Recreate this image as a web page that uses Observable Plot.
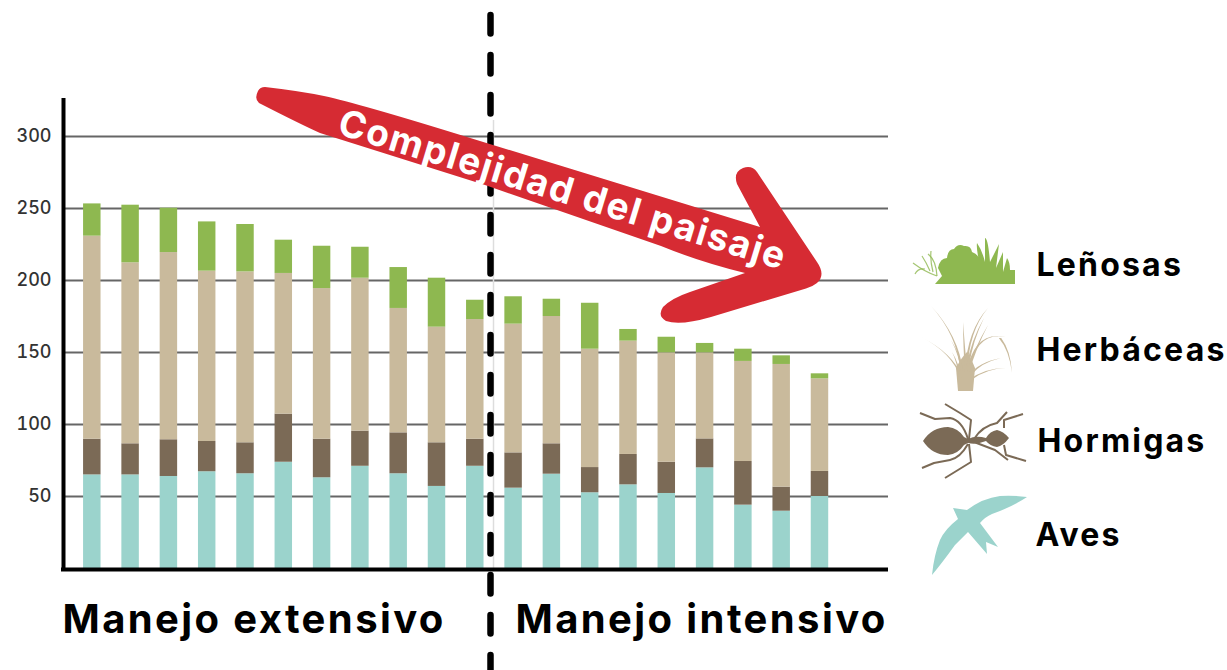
<!DOCTYPE html>
<html lang="es">
<head>
<meta charset="utf-8">
<title>Complejidad del paisaje</title>
<script src="https://cdn.jsdelivr.net/npm/d3@7"></script>
<script src="https://cdn.jsdelivr.net/npm/@observablehq/plot@0.6"></script>
<style>
html,body{margin:0;padding:0;background:#fff}
svg{display:block}
</style>
</head>
<body>
<div id="chart"></div>
<script>
const sites = d3.range(1, 21);
const aves = [65,65,63.9,67.2,65.8,73.8,63,71,65.8,57,71,55.8,65.5,52.6,58.1,52.1,69.9,44,39.8,50];
const hormigas = [24.8,21.6,25.5,21,21.5,33.4,26.8,24.4,28.4,30.3,18.8,24.5,21.1,17.5,21.1,21.7,20.1,30.3,16.7,17.4];
const herbaceas = [141,125.7,130,118.3,118.7,97.7,104.6,106.2,86.4,80.3,83.1,89.4,88.4,82.2,78.7,76,59.8,69.5,85.2,64.3];
const lenosas = [22.4,40,30.8,34.2,32.9,23.1,29.4,21.5,28.4,34,13.4,19,12,31.9,8.1,10.8,6.5,8.5,6,3.5];
const seriesNames = ["Aves","Hormigas","Herbáceas","Leñosas"];
const seriesValues = [aves,hormigas,herbaceas,lenosas];
const seriesColors = ["#9bd3cc","#7b6a56","#c9ba9c","#8eb850"];
const yTicks = [50,100,150,200,250,300];
const arrowLabel = "Complejidad del paisaje";
const FONT = "Inter, 'Noto Sans', sans-serif";

const W = 1227, H = 670;
const mL = 63, mR = 339, mT = 98, mB = 102;
const xDomain = [0.248, 21.789], yDomain = [0, 326.4];
const X = px => xDomain[0] + (px - mL) / (W - mR - mL) * (xDomain[1] - xDomain[0]);
const Y = py => yDomain[0] + (H - mB - py) / (H - mB - mT) * (yDomain[1] - yDomain[0]);

const rows = [];
sites.forEach((s, i) => {
  let base = 0;
  seriesNames.forEach((name, k) => {
    const v = seriesValues[k][i];
    rows.push({site: s, serie: name, y1: base, y2: base + v});
    base += v;
  });
});

const halfBar = 0.228;

const arrowPath = "M265 87 Q300 91 324 96 Q360 104 454 133 L760 227 L737 184 Q733 172 743 168 Q752 165 757 172 L817 262 Q826 275 817 283 Q812 287 806 288.5 L711 317 Q680 326 666 321 Q657 316 663 307 Q672 298 690 292 L745 273 Q700 262 661 246 L485 185 L320 133 Q300 124 259 103 Q254 99 258 91 Q260 87 265 87 Z";

const birdPath = "M1027 497 Q1012 495 1000 496 Q983 498 967 510 L953 508 L958 519 Q945 529 940 540 Q934 555 932 575 Q942 563 955 545 L968 532 L987 554 L986 542 L998 547 L980 523 Q985 517 992 514 Q1012 507 1027 497 Z";

const antBody = "M923 441 Q932 427 948 427 Q958 428 964 437 L968 439 Q976 435 986 438 Q990 431 997 430 Q1003 431 1009 438 Q1003 446 997 447 Q990 446 986 441 Q976 445 968 443 L964 445 Q958 454 948 455 Q932 455 923 441 Z";
const antLegs = [
  "M968 439 Q962 420 950 418 L935 419 L920 413",
  "M969 439 L971 420 L960 413 L945 404",
  "M974 439 Q982 426 997 423 L1007 412",
  "M1004 428 L1004 420 L1023 414",
  "M968 444 Q960 458 950 460 L934 463 L922 468",
  "M969 444 L971 462 L958 470 L945 478",
  "M974 442 L995 450 L1008 460",
  "M1004 445 L1006 455 L1026 461"
];

const bushPath = "M935 284 L942 276 L938 268 Q940 258 947 258 Q948 249 954 249 Q958 243 964 246 Q971 245 972 252 Q978 254 979 259 L980 266 Q976 248 977 243 Q982 250 985 262 L985 238 Q988 238 990 262 L999 244 L996 268 L1003 252 L1003 272 L1007 258 Q1010 262 1010 270 L1015 270 L1015 284 Z";
const twigs = [
  "M937 276 Q925 272 913 263",
  "M930 271 Q926 262 922 256",
  "M933 272 Q930 260 931 251",
  "M925 269 Q918 268 915 274",
  "M937 276 Q936 260 928 254"
];
const grassBase = "M958 391 L973 391 L975 368 Q971 358 967 352 Q961 358 956 368 Z";
// base, control, tip of each tapered blade
const grassBlades = [
  [[962,372],[958,335],[931,306]],
  [[962,378],[952,352],[921,337]],
  [[966,372],[968,330],[988,308]],
  [[968,372],[975,330],[1006,337]],
  [[1000,338],[1010,350],[1012,373]],
  [[962,372],[960,355],[951,340]],
  [[968,372],[975,348],[988,325]],
  [[966,372],[964,345],[963,322]],
  [[970,375],[980,362],[1001,358]],
  [[960,378],[958,362],[952,352]],
  [[970,380],[985,368],[1006,368]],
  [[968,365],[972,340],[984,318]]
];
const bladePath = ([b, c, t]) => `M${b[0]-1.2} ${b[1]} Q${c[0]-.8} ${c[1]} ${t[0]} ${t[1]} Q${c[0]+.8} ${c[1]+.8} ${b[0]+1.2} ${b[1]} Z`;

function shapes() {
  const g = d3.create("svg:g");
  g.append("path").attr("d", arrowPath).attr("fill", "#d62b33");
  // Leñosas icon
  g.append("path").attr("d", bushPath).attr("fill", seriesColors[3]);
  twigs.forEach(d => g.append("path").attr("d", d).attr("fill", "none").attr("stroke", seriesColors[3]).attr("stroke-width", 1.2).attr("opacity", .8));
  // Herbáceas icon
  g.append("path").attr("d", grassBase).attr("fill", seriesColors[2]);
  grassBlades.forEach(b => g.append("path").attr("d", bladePath(b)).attr("fill", seriesColors[2]));
  // Hormigas icon
  antLegs.forEach(d => g.append("path").attr("d", d).attr("fill", "none").attr("stroke", seriesColors[1]).attr("stroke-width", 2).attr("stroke-linejoin", "round"));
  g.append("path").attr("d", antBody).attr("fill", seriesColors[1]);
  // Aves icon
  g.append("path").attr("d", birdPath).attr("fill", seriesColors[0]);
  return g.node();
}

const legendRows = [
  {label: "Leñosas", px: 1036, py: 265},
  {label: "Herbáceas", px: 1036, py: 350},
  {label: "Hormigas", px: 1037, py: 441},
  {label: "Aves", px: 1035, py: 535}
];
const groupRows = [
  {label: "Manejo extensivo", px: 62, py: 620},
  {label: "Manejo intensivo", px: 515, py: 620}
];

const chart = Plot.plot({
  width: W, height: H,
  marginLeft: mL, marginRight: mR, marginTop: mT, marginBottom: mB,
  style: {background: "#fff", fontFamily: FONT, overflow: "visible"},
  x: {type: "linear", domain: xDomain, axis: null},
  y: {domain: yDomain, axis: null},
  color: {domain: seriesNames, range: seriesColors},
  marks: [
    Plot.ruleY(yTicks, {stroke: "#666", strokeWidth: 2}),
    Plot.rect(rows, {
      x1: d => d.site - halfBar,
      x2: d => d.site + halfBar,
      y1: "y1", y2: "y2", fill: "serie"
    }),
    Plot.axisY(yTicks, {
      anchor: "left", tickSize: 0, tickPadding: 12, label: null,
      fontSize: 18, fontWeight: 500, fill: "#333"
    }),
    Plot.ruleX([X(493)], {y1: Y(568), y2: Y(120), stroke: "#ddd", strokeWidth: 1.5}),
    Plot.ruleX([xDomain[0]], {y1: Y(570), y2: Y(98), stroke: "#000", strokeWidth: 4}),
    Plot.ruleY([Y(569)], {x1: X(61), x2: X(888), stroke: "#000", strokeWidth: 4}),
    Plot.ruleX([X(490)], {
      y1: Y(15), y2: Y(670), stroke: "#000", strokeWidth: 6.5,
      strokeDasharray: "18.5,21.5", strokeLinecap: "round"
    }),
    shapes,
    Plot.text([arrowLabel], {
      x: X(562), y: Y(190), text: d => d, rotate: 17,
      fill: "#fff", fontSize: 37, fontWeight: 650, textAnchor: "middle", lineAnchor: "middle"
    }),
    Plot.text(legendRows, {
      x: d => X(d.px), y: d => Y(d.py), text: "label",
      fill: "#000", fontSize: 32, fontWeight: 700, textAnchor: "start", lineAnchor: "middle"
    }),
    Plot.text(groupRows, {
      x: d => X(d.px), y: d => Y(d.py), text: "label",
      fill: "#000", fontSize: 40, fontWeight: 700, textAnchor: "start", lineAnchor: "middle"
    })
  ]
});

const spacing = new Map([[arrowLabel, "1.6px"]]);
legendRows.forEach(d => spacing.set(d.label, "2.2px"));
groupRows.forEach(d => spacing.set(d.label, "2.4px"));
chart.querySelectorAll("text").forEach(t => {
  const s = spacing.get(t.textContent.trim());
  if (s) t.style.letterSpacing = s;
});
document.getElementById("chart").append(chart);
</script>
</body>
</html>
